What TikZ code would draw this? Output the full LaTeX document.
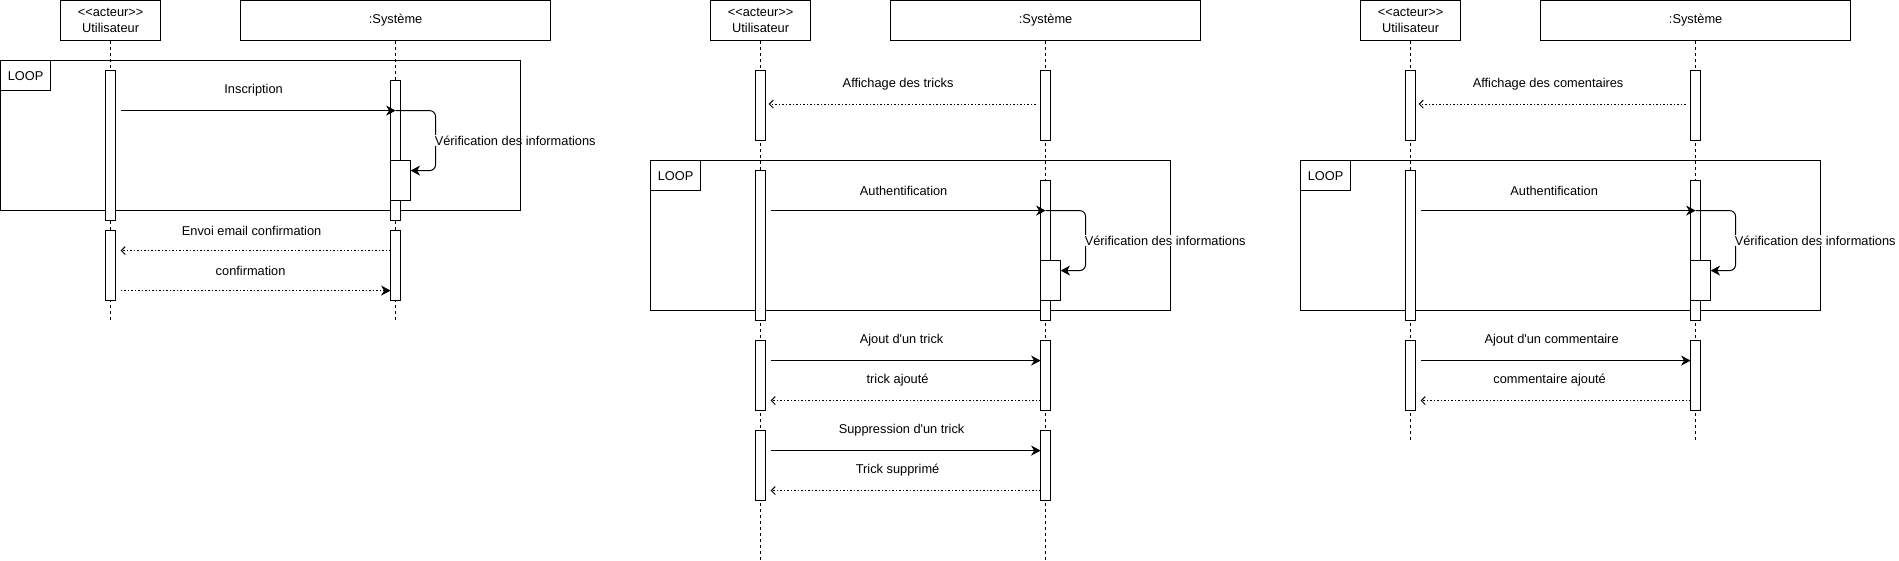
\documentclass[tikz,border=0pt]{standalone}
\usepackage{fontspec}
\newfontfamily\dfont{Liberation Sans}
\usetikzlibrary{arrows.meta}
\tikzset{
  txt/.style={font=\dfont\fontsize{12.8}{15.6}\selectfont},
  box/.style={txt, draw, line width=1pt, fill=white, inner sep=0pt, align=center},
  act/.style={draw, fill=white, line width=1pt, minimum width=10pt, inner sep=0pt, outer sep=0pt},
  life/.style={line width=1pt, dash pattern=on 3pt off 3pt},
  umlframe/.style={draw, line width=1pt, inner sep=0pt, outer sep=0pt, minimum width=520pt, minimum height=150pt},
  looptag/.style={txt, draw, line width=1pt, inner sep=0pt, outer sep=0pt, minimum width=50pt, minimum height=30pt},
  msg/.style={line width=1pt, -{Stealth[length=9.5pt,width=10pt,inset=3pt]}},
  selfmsg/.style={msg, rounded corners=6pt},
  ret/.style={line width=1pt, dash pattern=on 1.5pt off 2pt, -{Straight Barb[length=4pt,width=8pt]}},
  retf/.style={line width=1pt, dash pattern=on 1.5pt off 2pt, -{Stealth[length=9.5pt,width=10pt,inset=3pt]}},
  lbl/.style={txt, inner sep=1pt, midway, yshift=20pt},
  vlbl/.style={txt, inner sep=1pt, fill=white, anchor=west}
}
\begin{document}
\begin{tikzpicture}[x=1pt,y=-1pt]
\useasboundingbox (-0.6,-0.6) rectangle (1898.4,560.4);

% ================= Panel A =================
\begin{scope}
\node[box, minimum width=100pt, minimum height=40pt] (aU) at (110,20) {<<acteur>>\\Utilisateur};
\node[box, minimum width=310pt, minimum height=40pt] (aS) at (395,20) {:Système};
\coordinate (aUe) at (110,320);
\coordinate (aSe) at (395,320);
\draw[life] (aU.south) -- (aUe);
\draw[life] (aS.south) -- (aSe);
\node[umlframe, anchor=north west] (aF) at (0,60) {};
\node[looptag, anchor=north west] (aT) at (aF.north west) {LOOP};
\node[act, minimum height=150pt] (aUa1) at (110,145) {};
\node[act, minimum height=140pt] (aSa1) at (395,150) {};
\node[act, minimum width=20pt, minimum height=40pt] (aN) at (400,180) {};
\node[act, minimum height=70pt] (aUa2) at (110,265) {};
\node[act, minimum height=70pt] (aSa2) at (395,265) {};
\coordinate (a1s) at (120,110);
\coordinate (a1e) at (395,110);
\coordinate (a2c) at (435,110);
\coordinate (a2d) at (435,170);
\coordinate (a2e) at (410,170);
\coordinate (a3s) at (390,250);
\coordinate (a3e) at (120,250);
\coordinate (a4s) at (120,290);
\coordinate (a4e) at (390,290);
\draw[msg] (a1s) -- node[lbl, xshift=-4.5pt] {Inscription} (a1e);
\draw[selfmsg] (a1e) -- (a2c) -- (a2d) -- (a2e);
\node[vlbl] (aV) at (433,140) {Vérification des informations};
\draw[line width=1pt] (aF.north east) -- (aF.south east);
\draw[ret] (a3s) -- node[lbl, xshift=-4pt] {Envoi email confirmation} (a3e);
\draw[retf] (a4s) -- node[lbl, xshift=-5pt] {confirmation} (a4e);
\end{scope}

% ================= Panel B =================
\begin{scope}[xshift=650pt]
\node[box, minimum width=100pt, minimum height=40pt] (bU) at (110,20) {<<acteur>>\\Utilisateur};
\node[box, minimum width=310pt, minimum height=40pt] (bS) at (395,20) {:Système};
\coordinate (bUe) at (110,560);
\coordinate (bSe) at (395,560);
\draw[life] (bU.south) -- (bUe);
\draw[life] (bS.south) -- (bSe);
\node[act, minimum height=70pt] (bUa0) at (110,105) {};
\node[act, minimum height=70pt] (bSa0) at (395,105) {};
\node[umlframe, anchor=north west] (bF) at (0,160) {};
\node[looptag, anchor=north west] (bT) at (bF.north west) {LOOP};
\node[act, minimum height=150pt] (bUa1) at (110,245) {};
\node[act, minimum height=140pt] (bSa1) at (395,250) {};
\node[act, minimum width=20pt, minimum height=40pt] (bN) at (400,280) {};
\node[act, minimum height=70pt] (bUa2) at (110,375) {};
\node[act, minimum height=70pt] (bSa2) at (395,375) {};
\node[act, minimum height=70pt] (bUa3) at (110,465) {};
\node[act, minimum height=70pt] (bSa3) at (395,465) {};
\coordinate (b0s) at (385,103.5);
\coordinate (b0e) at (118,103.5);
\coordinate (b1s) at (120,210);
\coordinate (b1e) at (395,210);
\coordinate (b2c) at (435,210);
\coordinate (b2d) at (435,270);
\coordinate (b2e) at (410,270);
\coordinate (b3s) at (120,360);
\coordinate (b3e) at (390,360);
\coordinate (b4s) at (390,400);
\coordinate (b4e) at (120,400);
\coordinate (b5s) at (120,450);
\coordinate (b5e) at (390,450);
\coordinate (b6s) at (390,490);
\coordinate (b6e) at (120,490);
\draw[ret] (b0s) -- node[lbl, xshift=-4pt] {Affichage des tricks} (b0e);
\draw[msg] (b1s) -- node[lbl, xshift=-4.5pt] {Authentification} (b1e);
\draw[selfmsg] (b1e) -- (b2c) -- (b2d) -- (b2e);
\node[vlbl] (bV) at (433,240) {Vérification des informations};
\draw[msg] (b3s) -- node[lbl, xshift=-4pt] {Ajout d'un trick} (b3e);
\draw[ret] (b4s) -- node[lbl, xshift=-8pt] {trick ajouté} (b4e);
\draw[msg] (b5s) -- node[lbl, xshift=-4pt] {Suppression d'un trick} (b5e);
\draw[ret] (b6s) -- node[lbl, xshift=-8pt] {Trick supprimé} (b6e);
\end{scope}

% ================= Panel C =================
\begin{scope}[xshift=1300pt]
\node[box, minimum width=100pt, minimum height=40pt] (cU) at (110,20) {<<acteur>>\\Utilisateur};
\node[box, minimum width=310pt, minimum height=40pt] (cS) at (395,20) {:Système};
\coordinate (cUe) at (110,440);
\coordinate (cSe) at (395,440);
\draw[life] (cU.south) -- (cUe);
\draw[life] (cS.south) -- (cSe);
\node[act, minimum height=70pt] (cUa0) at (110,105) {};
\node[act, minimum height=70pt] (cSa0) at (395,105) {};
\node[umlframe, anchor=north west] (cF) at (0,160) {};
\node[looptag, anchor=north west] (cT) at (cF.north west) {LOOP};
\node[act, minimum height=150pt] (cUa1) at (110,245) {};
\node[act, minimum height=140pt] (cSa1) at (395,250) {};
\node[act, minimum width=20pt, minimum height=40pt] (cN) at (400,280) {};
\node[act, minimum height=70pt] (cUa2) at (110,375) {};
\node[act, minimum height=70pt] (cSa2) at (395,375) {};
\coordinate (c0s) at (385,103.5);
\coordinate (c0e) at (118,103.5);
\coordinate (c1s) at (120,210);
\coordinate (c1e) at (395,210);
\coordinate (c2c) at (435,210);
\coordinate (c2d) at (435,270);
\coordinate (c2e) at (410,270);
\coordinate (c3s) at (120,360);
\coordinate (c3e) at (390,360);
\coordinate (c4s) at (390,400);
\coordinate (c4e) at (120,400);
\draw[ret] (c0s) -- node[lbl, xshift=-4pt] {Affichage des comentaires} (c0e);
\draw[msg] (c1s) -- node[lbl, xshift=-4pt] {Authentification} (c1e);
\draw[selfmsg] (c1e) -- (c2c) -- (c2d) -- (c2e);
\node[vlbl] (cV) at (433,240) {Vérification des informations};
\draw[msg] (c3s) -- node[lbl, xshift=-4pt] {Ajout d'un commentaire} (c3e);
\draw[ret] (c4s) -- node[lbl, xshift=-6pt] {commentaire ajouté} (c4e);
\end{scope}
\end{tikzpicture}
\end{document}
